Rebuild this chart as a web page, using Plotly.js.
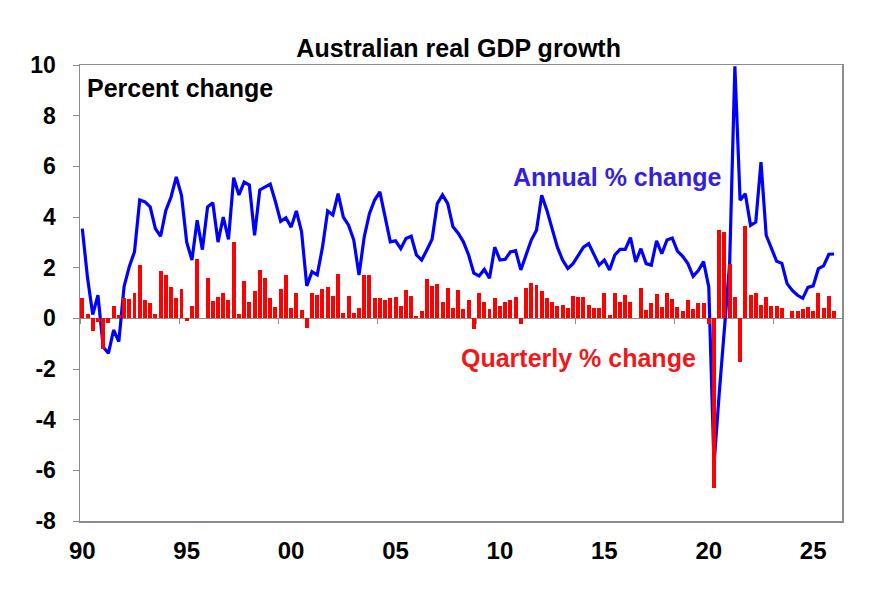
<!DOCTYPE html>
<html>
<head>
<meta charset="utf-8">
<script src="https://cdn.plot.ly/plotly-3.0.1.min.js"></script>
<style>
  html, body { margin: 0; padding: 0; background: #ffffff; }
  #chart { width: 882px; height: 607px; }
</style>
</head>
<body>
<div id="chart"></div>
<script>
// Quarterly series, first observation 1990 Q1
const startYear = 1990;

// Quarter-on-quarter % change in real GDP
const quarterlyChange = [
  0.79, 0.17, -0.50, -0.15, -1.22, -0.20, 0.50, 0.12, 0.81, 0.75,
  1.01, 2.12, 0.72, 0.62, 0.16, 1.86, 1.71, 1.24, 0.81, 1.14,
  -0.10, 0.50, 2.33, 0.02, 1.59, 0.68, 0.85, 0.99, 0.72, 3.01,
  0.17, 1.47, 0.64, 1.07, 1.89, 1.59, 0.79, 0.43, 1.14, 1.72,
  0.42, 1.00, 0.33, -0.37, 0.99, 0.92, 1.17, 1.24, 0.88, 1.74,
  0.22, 0.88, 0.22, 0.42, 1.72, 1.72, 0.79, 0.79, 0.72, 0.81,
  0.85, 0.49, 1.11, 0.88, 0.08, 0.28, 1.57, 1.26, 1.37, 0.64,
  1.21, 0.39, 1.13, 0.36, 0.74, -0.41, 1.01, 0.64, 0.38, 0.82,
  0.47, 0.64, 0.74, 0.86, -0.23, 1.21, 1.41, 1.30, 1.08, 0.82,
  0.64, 0.47, 0.54, 0.41, 0.88, 0.85, 0.85, 0.51, 0.42, 0.41,
  1.00, 0.14, 1.00, 0.64, 0.93, 0.64, 0.03, 1.20, 0.32, 0.60,
  0.97, 0.45, 1.01, 0.77, 0.43, 0.29, 0.74, 0.36, 0.62, 0.62,
  -0.21, -6.71, 3.49, 3.42, 2.15, 0.85, -1.71, 3.64, 0.93, 1.00,
  0.51, 0.85, 0.49, 0.47, 0.42, 0.03, 0.29, 0.29, 0.36, 0.46,
  0.29, 0.99, 0.41, 0.90, 0.30
];

// Year-on-year % change in real GDP
const annualChange = [
  3.54, 1.60, 0.15, 0.91, -1.13, -1.38, -0.46, -0.92, 1.25, 2.04,
  2.63, 4.67, 4.60, 4.40, 3.54, 3.24, 4.26, 4.79, 5.58, 4.86,
  3.01, 2.30, 3.87, 2.71, 4.40, 4.56, 3.01, 4.00, 3.12, 5.55,
  4.87, 5.38, 5.26, 3.28, 5.07, 5.17, 5.30, 4.60, 3.83, 3.97,
  3.60, 4.24, 3.42, 1.28, 1.84, 1.71, 2.80, 4.24, 4.08, 4.92,
  4.00, 3.68, 3.09, 1.71, 3.21, 4.13, 4.67, 4.99, 4.00, 3.02,
  3.06, 2.75, 3.15, 3.24, 2.50, 2.30, 2.70, 3.12, 4.53, 4.87,
  4.53, 3.61, 3.36, 3.02, 2.50, 1.78, 1.67, 1.93, 1.58, 2.81,
  2.30, 2.33, 2.62, 2.67, 1.91, 2.55, 3.09, 3.48, 4.86, 4.26,
  3.48, 2.81, 2.30, 1.97, 2.16, 2.50, 2.81, 2.95, 2.55, 2.10,
  2.30, 1.91, 2.50, 2.72, 2.72, 3.19, 2.23, 2.75, 2.16, 2.10,
  3.06, 2.55, 3.09, 3.17, 2.65, 2.45, 2.16, 1.66, 1.89, 2.24,
  1.24, -5.79, -2.97, -0.34, 2.16, 9.95, 4.66, 4.92, 3.67, 3.80,
  6.17, 3.28, 2.75, 2.25, 2.17, 1.37, 1.10, 0.91, 0.79, 1.22,
  1.28, 1.96, 2.07, 2.53, 2.54
];

// Axis labels
const yearTicks = [1990, 1995, 2000, 2005, 2010, 2015, 2020, 2025];
const yearLabels = ['90', '95', '00', '05', '10', '15', '20', '25'];
const pctTicks = [-8, -6, -4, -2, 0, 2, 4, 6, 8, 10];
const pctLabels = ['-8', '-6', '-4', '-2', '0', '2', '4', '6', '8', '10'];

// Time position of each quarter (decimal years)
const quarterTime = quarterlyChange.map((_, i) => startYear + i / 4);

const FONT = 'Liberation Sans, Arial, Helvetica, sans-serif';
const AXIS_GREY = '#8c8c8c';
const xRange = [1989.89, 2026.38];

const barTrace = {
  type: 'bar',
  x: quarterTime,
  y: quarterlyChange,
  xaxis: 'x2',
  width: 0.19,
  marker: { color: '#ff0000', line: { width: 0 } },
  hoverinfo: 'x+y',
  showlegend: false
};

const lineTrace = {
  type: 'scatter',
  mode: 'lines',
  x: quarterTime,
  y: annualChange,
  line: { color: '#0000ff', width: 3.2 },
  hoverinfo: 'x+y',
  showlegend: false,
  cliponaxis: true
};

const layout = {
  width: 882,
  height: 607,
  margin: { l: 80, r: 40, t: 65, b: 86 },
  paper_bgcolor: '#ffffff',
  plot_bgcolor: '#ffffff',
  font: { family: FONT, color: '#000000' },
  bargap: 0,
  title: {
    text: 'Australian real GDP growth',
    font: { family: FONT, size: 25, color: '#000000', weight: 'bold' },
    x: 0.52, xanchor: 'center',
    y: 0.921, yanchor: 'middle'
  },
  xaxis: {
    range: xRange,
    tickvals: yearTicks,
    ticktext: yearLabels,
    ticks: '',
    showgrid: false,
    zeroline: false,
    showline: true,
    linecolor: AXIS_GREY,
    linewidth: 1.5,
    mirror: true,
    tickfont: { family: FONT, size: 24, color: '#000000', weight: 'bold' },
    ticklabelstandoff: 8
  },
  // Small year markers sitting on the zero line
  xaxis2: {
    overlaying: 'x',
    anchor: 'free',
    position: 0.445,
    side: 'bottom',
    range: xRange,
    tick0: 1994.645,
    dtick: 4.745,
    ticks: 'outside',
    ticklen: 5,
    tickwidth: 1,
    tickcolor: AXIS_GREY,
    showticklabels: false,
    showgrid: false,
    zeroline: false,
    showline: false
  },
  yaxis: {
    range: [-8, 10],
    tickvals: pctTicks,
    ticktext: pctLabels,
    ticks: 'outside',
    ticklen: 6,
    tickwidth: 1,
    tickcolor: AXIS_GREY,
    showgrid: false,
    zeroline: true,
    zerolinecolor: AXIS_GREY,
    zerolinewidth: 1,
    showline: true,
    linecolor: AXIS_GREY,
    linewidth: 1.5,
    mirror: true,
    tickfont: { family: FONT, size: 23, color: '#000000', weight: 'bold' },
    ticklabelstandoff: 12
  },
  annotations: [
    {
      text: 'Percent change',
      xref: 'paper', yref: 'paper',
      x: 0.006, y: 0.985, xanchor: 'left', yanchor: 'top',
      showarrow: false,
      font: { family: FONT, size: 25, color: '#000000', weight: 'bold' }
    },
    {
      text: 'Annual % change',
      xref: 'paper', yref: 'paper',
      x: 0.565, y: 0.754, xanchor: 'left', yanchor: 'middle',
      showarrow: false,
      font: { family: FONT, size: 25, color: '#3322dd', weight: 'bold' }
    },
    {
      text: 'Quarterly % change',
      xref: 'paper', yref: 'paper',
      x: 0.498, y: 0.357, xanchor: 'left', yanchor: 'middle',
      showarrow: false,
      font: { family: FONT, size: 25, color: '#f01818', weight: 'bold' }
    }
  ]
};

Plotly.newPlot('chart', [barTrace, lineTrace], layout, { displayModeBar: false, staticPlot: true });
</script>
</body>
</html>
